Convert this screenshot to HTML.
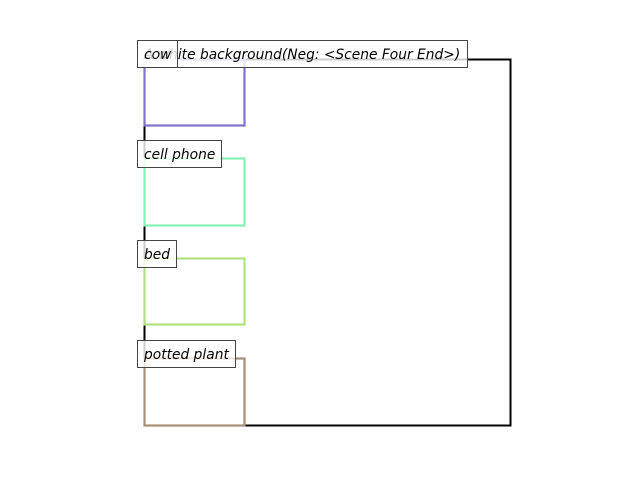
<!DOCTYPE html>
<html><head><meta charset="utf-8"><style>body{margin:0;background:#fff}svg{display:block}</style></head>
<body>
<svg width="640" height="480" xmlns="http://www.w3.org/2000/svg" font-family="DejaVu Sans, Liberation Sans, sans-serif" font-style="italic" font-size="13.8">
<rect x="144.5" y="59.5" width="366" height="366" fill="none" stroke="#000" stroke-width="2"/>
<rect x="144.5" y="59.5" width="100" height="66" fill="none" stroke="#7f72cc" stroke-width="2.2"/>
<rect x="144.5" y="158.5" width="100" height="67" fill="none" stroke="#86f0b8" stroke-width="2.2"/>
<rect x="144.5" y="258.5" width="100" height="66" fill="none" stroke="#aee280" stroke-width="2.2"/>
<rect x="144.5" y="358.5" width="100" height="67" fill="none" stroke="#a88e72" stroke-width="2.2"/>
<rect x="137.5" y="40.5" width="330" height="27" fill="#fff" fill-opacity="0.8" stroke="#444"/>
<text x="144" y="59">A white background(Neg: &lt;Scene Four End&gt;)</text>
<rect x="137.5" y="40.5" width="40" height="27" fill="#fff" fill-opacity="0.8" stroke="#444"/>
<text x="144" y="59">cow</text>
<rect x="137.5" y="140.5" width="84" height="27" fill="#fff" fill-opacity="0.8" stroke="#444"/>
<text x="144" y="159">cell phone</text>
<rect x="137.5" y="240.5" width="39" height="27" fill="#fff" fill-opacity="0.8" stroke="#444"/>
<text x="144" y="259">bed</text>
<rect x="137.5" y="340.5" width="98" height="27" fill="#fff" fill-opacity="0.8" stroke="#444"/>
<text x="144" y="359">potted plant</text>
</svg>
</body></html>
